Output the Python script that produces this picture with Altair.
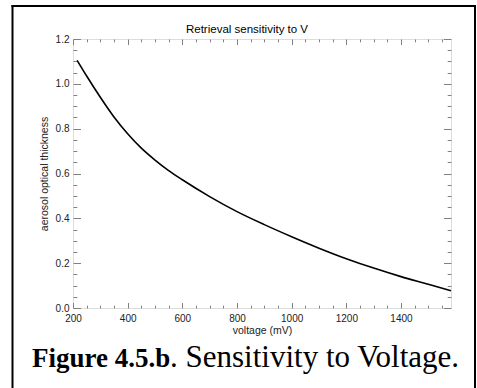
import altair as alt
import pandas as pd

# ---- data ----
voltage = [215, 250, 300, 350, 400, 450, 500, 550, 600, 700, 800, 900, 1000,
           1100, 1200, 1300, 1400, 1500, 1583]
aot = [1.105, 1.035, 0.940, 0.852, 0.777, 0.713, 0.660, 0.613, 0.572, 0.497,
       0.430, 0.372, 0.318, 0.267, 0.220, 0.178, 0.140, 0.106, 0.077]

x_major = [200, 400, 600, 800, 1000, 1200, 1400]
x_minor = [250, 300, 350, 450, 500, 550, 650, 700, 750, 850, 900, 950,
           1050, 1100, 1150, 1250, 1300, 1350, 1450, 1500, 1550]
y_major = [0.0, 0.2, 0.4, 0.6, 0.8, 1.0, 1.2]
y_minor = [0.05, 0.1, 0.15, 0.25, 0.3, 0.35, 0.45, 0.5, 0.55, 0.65, 0.7, 0.75,
           0.85, 0.9, 0.95, 1.05, 1.1, 1.15]

x_domain = [200, 1583]
y_domain = [0.0, 1.2]

title_text = "Retrieval sensitivity to V"
x_title = "voltage (mV)"
y_title = "aerosol optical thickness"
caption_bold = "Figure 4.5.b"
caption_rest = ".  Sensitivity to Voltage."

df = pd.DataFrame({"v": voltage, "a": aot})
one = pd.DataFrame({"k": [0]})

W, H = 378, 269
TICK = "#808080"
SANS = "Liberation Sans"
SERIF = "Liberation Serif"

xs = alt.Scale(domain=x_domain, nice=False, zero=False)
ys = alt.Scale(domain=y_domain, nice=False, zero=False)

# main line with labelled axes
line = alt.Chart(df).mark_line(color="black", strokeWidth=1.6, interpolate="monotone").encode(
    x=alt.X("v:Q", scale=xs, axis=alt.Axis(
        orient="bottom", values=x_major, ticks=False, domain=False, grid=False,
        format="d", labelFlush=False, labelOverlap=False, labelPadding=5,
        labelFont=SANS, labelFontSize=10, labelColor="#222222",
        title=x_title, titleFont=SANS, titleFontSize=10.5, titleFontWeight="normal",
        titleColor="#222222", titlePadding=2)),
    y=alt.Y("a:Q", scale=ys, axis=alt.Axis(
        orient="left", values=y_major, ticks=False, domain=False, grid=False,
        format=".1f", labelOverlap=False, labelPadding=4,
        labelFont=SANS, labelFontSize=10, labelColor="#222222",
        title=y_title, titleFont=SANS, titleFontSize=10.5, titleFontWeight="normal",
        titleColor="#222222", titlePadding=6)),
)


def tick_layer(x_orient, x_vals, x_len, y_orient, y_vals, y_len, x_off, y_off):
    return alt.Chart(df).mark_point(opacity=0).encode(
        x=alt.X("v:Q", scale=xs, axis=alt.Axis(
            orient=x_orient, offset=x_off, values=x_vals, tickSize=x_len,
            tickColor=TICK, tickWidth=1, labels=False, domain=False, grid=False,
            title="")),
        y=alt.Y("a:Q", scale=ys, axis=alt.Axis(
            orient=y_orient, offset=y_off, values=y_vals, tickSize=y_len,
            tickColor=TICK, tickWidth=1, labels=False, domain=False, grid=False,
            title="")),
    )

# inward ticks: an axis of the opposite side pulled across the plot
t1 = tick_layer("top", x_major, 5.5, "right", y_major, 7.5, -H, -W)
t2 = tick_layer("top", x_minor, 2.8, "right", y_minor, 3.8, -H, -W)
t3 = tick_layer("bottom", x_major, 5.5, "left", y_major, 7.5, -H, -W)
t4 = tick_layer("bottom", x_minor, 2.8, "left", y_minor, 3.8, -H, -W)

# page frame (black border, left/top/right)
frame_left = alt.Chart(one).mark_rule(color="black", strokeWidth=2).encode(
    x=alt.value(-60.5), y=alt.value(-34), y2=alt.value(H + 80))
frame_top = alt.Chart(one).mark_rule(color="black", strokeWidth=2).encode(
    x=alt.value(-61.5), x2=alt.value(403), y=alt.value(-33))
frame_right = alt.Chart(one).mark_rule(color="black", strokeWidth=2).encode(
    x=alt.value(402), y=alt.value(-34), y2=alt.value(H + 80))

title = alt.Chart(one).mark_text(
    text=title_text, font=SANS, fontSize=11.5, fontWeight="normal",
    align="center", baseline="alphabetic", color="black").encode(
    x=alt.value(174), y=alt.value(-6))

cap1 = alt.Chart(one).mark_text(
    text=caption_bold, font=SERIF, fontSize=27, fontWeight="bold",
    align="left", baseline="alphabetic", color="black").encode(
    x=alt.value(-41), y=alt.value(328))
cap2 = alt.Chart(one).mark_text(
    text=caption_rest, font=SERIF, fontSize=31, fontWeight="normal",
    align="left", baseline="alphabetic", color="black").encode(
    x=alt.value(97), y=alt.value(328))

chart = alt.layer(
    t1, t2, t3, t4, line, frame_left, frame_top, frame_right, title, cap1, cap2
).resolve_axis(x="independent", y="independent").properties(
    width=W, height=H,
    autosize=alt.AutoSizeParams(type="none"),
    padding={"left": 73, "top": 39, "right": 26, "bottom": 80},
).configure_view(stroke=TICK, strokeWidth=1).configure(background="white")

chart.save("out.html", embed_options={"renderer": "svg", "actions": False})
